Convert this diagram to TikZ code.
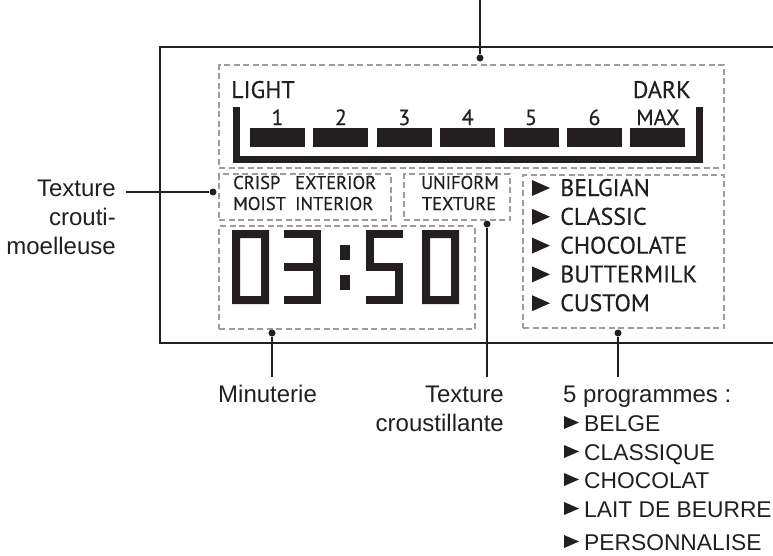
\documentclass[tikz,border=0pt]{standalone}
\usepackage{fontspec}
\setmainfont{Liberation Sans}
\newfontfamily\lcdfont[FakeBold=0.4]{PT Sans}
\usetikzlibrary{calc}

\definecolor{zonegray}{HTML}{9D9D9D}
\definecolor{ink}{HTML}{231F20}

% seven-segment digits, #1 = left edge
\newcommand{\lcdzero}[1]{\fill[ink, even odd rule] (#1,230) rectangle ++(37,74) (#1+8,238) rectangle (#1+29,296);}
\newcommand{\lcdthree}[1]{%
  \fill[ink] (#1,230) rectangle ++(37,8);
  \fill[ink] (#1,263) rectangle ++(37,8);
  \fill[ink] (#1,296) rectangle ++(37,8);
  \fill[ink] (#1+29,230) rectangle ++(8,74);}
\newcommand{\lcdfive}[1]{%
  \fill[ink] (#1,230) rectangle ++(37,8);
  \fill[ink] (#1,230) rectangle ++(8,41);
  \fill[ink] (#1,263) rectangle ++(37,8);
  \fill[ink] (#1+29,263) rectangle ++(8,41);
  \fill[ink] (#1,296) rectangle ++(37,8);}

\begin{document}
\begin{tikzpicture}[x=1pt, y=-1pt,
  zone/.style={draw=zonegray, line width=2pt, dash pattern=on 6pt off 3.5pt, anchor=north west, inner sep=0pt},
  lcdbig/.style={font=\lcdfont\fontsize{24}{24}\selectfont, text=ink, inner sep=0pt},
  lcdsmall/.style={font=\lcdfont\fontsize{18.5}{18.5}\selectfont, text=ink, inner sep=0pt},
  lbl/.style={font=\fontsize{24}{29}\selectfont, text=ink, inner sep=0pt},
  lbllist/.style={lbl, font=\fontsize{22.8}{29}\selectfont},
  lead/.style={ink, line width=1.8pt},
  dot/.style={circle, fill=ink, inner sep=0pt, minimum size=7pt},
  frame/.style={ink, line width=2.6pt}]

  \useasboundingbox (0,0) rectangle (773,555);

  % Control panel outline
  \draw[frame] (773,47) -- (160,47) -- (160,343) -- (773,343);

  % Dashed zones
  \node[zone, minimum width=505pt, minimum height=103pt] (shadezone) at (218,64) {};
  \node[zone, minimum width=172pt, minimum height=46pt] (crispzone) at (218,173) {};
  \node[zone, minimum width=106pt, minimum height=46pt] (unifzone) at (403,173) {};
  \node[zone, minimum width=256pt, minimum height=103pt] (timerzone) at (218,225) {};
  \node[zone, minimum width=201pt, minimum height=153pt] (progzone) at (522,174) {};

  % Browning scale
  \node[lcdbig, anchor=base west] (light) at (231,98) {LIGHT};
  \node[lcdbig, anchor=base east] (dark) at (691,98) {DARK};
  \draw[ink, line width=7pt, line join=miter] (236,107) -- (236,159) -- (699,159) -- (699,107);
  \foreach \lvl [count=\i from 0] in {1,2,3,4,5,6,MAX} {
    \fill[ink] (250+63.4*\i,128) rectangle ++(55,19);
    \node[lcdbig, anchor=base, font=\lcdfont\fontsize{22}{22}\selectfont] (lvl\i) at (277.5+63.4*\i,125) {\lvl};
  }

  % Texture selections
  \node[lcdsmall, anchor=base west] (crisp) at (233,189) {CRISP};
  \node[lcdsmall, anchor=base west] (exterior) at (295,189) {EXTERIOR};
  \node[lcdsmall, anchor=base west] (moist) at (233,210) {MOIST};
  \node[lcdsmall, anchor=base west] (interior) at (295,210) {INTERIOR};
  \node[lcdsmall, anchor=base] (uniform) at (460,189) {UNIFORM};
  \node[lcdsmall, anchor=base] (texture) at (459,210) {TEXTURE};

  % Timer 03:50
  \lcdzero{232}
  \lcdthree{284}
  \fill[ink] (340,245) rectangle ++(10,15);
  \fill[ink] (340,275) rectangle ++(10,15);
  \lcdfive{366}
  \lcdzero{422}

  % Programs on display
  \foreach \prog [count=\i from 0] in {BELGIAN,CLASSIC,CHOCOLATE,BUTTERMILK,CUSTOM} {
    \fill[ink] (532,180+28.8*\i) -- (550,188+28.8*\i) -- (532,196+28.8*\i) -- cycle;
    \node[lcdbig, anchor=base west] (prog\i) at (560,196+28.8*\i) {\prog};
  }

  % Leader dots
  \node[dot] (dshade) at (480,58) {};
  \node[dot] (dcrisp) at (213,192) {};
  \node[dot] (dunif) at (487,224) {};
  \node[dot] (dtimer) at (272,333) {};
  \node[dot] (dprog) at (618,333) {};

  \coordinate (shadeend) at (480,0);
  \coordinate (crispend) at (126,192);
  \coordinate (unifend) at (487,377);
  \coordinate (timerend) at (272,377);
  \coordinate (progend) at (618,377);

  \draw[lead] (dshade) -- (shadeend);
  \draw[lead] (dcrisp) -- (crispend);
  \draw[lead] (dunif) -- (unifend);
  \draw[lead] (dtimer) -- (timerend);
  \draw[lead] (dprog) -- (progend);

  % Callout labels
  \node[lbl, anchor=base east] (crispA) at (116,196) {Texture};
  \node[lbl, anchor=base east] (crispB) at (116,225) {crouti-};
  \node[lbl, anchor=base east] (crispC) at (116,254) {moelleuse};

  \node[lbl, anchor=base west] (timerlbl) at (218,402) {Minuterie};

  \node[lbl, anchor=base east] (uniflblA) at (504,402) {Texture};
  \node[lbl, anchor=base east] (uniflblB) at (504,431) {croustillante};

  \node[lbl, anchor=base west] (proglbl) at (563,402) {5 programmes :};
  \foreach \fr/\yb [count=\i from 0] in {BELGE/431,CLASSIQUE/460,CHOCOLAT/488,LAIT DE BEURRE/517,PERSONNALISE/550} {
    \fill[ink] (564,\yb-15) -- (579,\yb-8.5) -- (564,\yb-2) -- cycle;
    \node[lbllist, anchor=base west] (fr\i) at (584,\yb) {\fr};
  }

\end{tikzpicture}
\end{document}
